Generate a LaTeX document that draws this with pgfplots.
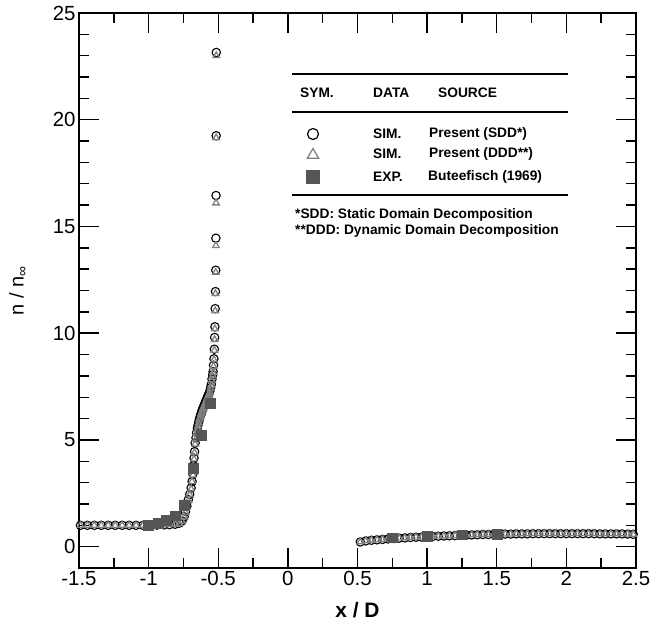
\documentclass[border=0pt]{standalone}
\usepackage{pgfplots}
\pgfplotsset{compat=1.18}
\usepackage{pgfplotstable}
\usepackage{fontspec}
\setmainfont{Liberation Sans}
\usetikzlibrary{shapes.geometric}

% upstream + shock region: x, SDD (circles), DDD (triangles)
\pgfplotstableread{
x sdd ddd
-1.49 1.00 1.00
-1.44 1.00 1.00
-1.39 1.00 1.00
-1.34 1.00 1.00
-1.29 1.00 1.00
-1.24 1.00 1.00
-1.19 1.00 1.00
-1.14 1.00 1.00
-1.09 1.00 1.00
-1.04 1.00 1.00
-0.99 1.00 1.00
-0.94 1.01 1.01
-0.89 1.02 1.02
-0.85 1.03 1.03
-0.81 1.05 1.05
-0.78 1.10 1.08
-0.76 1.20 1.17
-0.745 1.40 1.38
-0.735 1.65 1.60
-0.725 1.90 1.87
-0.715 2.20 2.15
-0.705 2.45 2.43
-0.695 2.75 2.70
-0.688 3.05 3.05
-0.682 3.40 3.35
-0.678 3.80 3.75
-0.674 4.15 4.10
-0.670 4.45 4.40
-0.666 4.85 4.80
-0.660 5.10 5.05
-0.655 5.35 5.30
-0.650 5.55 5.50
-0.645 5.70 5.65
-0.640 5.85 5.80
-0.635 5.98 5.95
-0.630 6.10 6.05
-0.625 6.20 6.15
-0.620 6.30 6.25
-0.615 6.40 6.35
-0.610 6.48 6.45
-0.605 6.56 6.52
-0.600 6.64 6.60
-0.595 6.72 6.68
-0.590 6.80 6.76
-0.585 6.88 6.84
-0.580 6.96 6.92
-0.575 7.04 7.00
-0.570 7.12 7.08
-0.565 7.20 7.16
-0.560 7.30 7.25
-0.555 7.45 7.40
-0.550 7.60 7.55
-0.545 7.85 7.80
-0.540 8.05 8.00
-0.537 8.20 8.15
-0.534 8.50 8.45
-0.531 8.80 8.75
-0.528 9.25 9.20
-0.526 9.80 9.70
-0.524 10.30 10.20
-0.522 11.15 11.05
-0.520 11.95 11.85
-0.518 12.95 12.85
-0.517 14.45 14.10
-0.516 16.45 16.10
-0.515 19.25 19.15
-0.514 23.15 23.00
}\upstream

% downstream region
\pgfplotstableread{
x sdd ddd
0.52 0.22 0.22
0.56 0.27 0.27
0.60 0.30 0.30
0.64 0.32 0.32
0.68 0.34 0.34
0.72 0.36 0.36
0.76 0.38 0.38
0.80 0.40 0.40
0.84 0.41 0.41
0.88 0.43 0.43
0.92 0.44 0.44
0.96 0.45 0.45
1.00 0.47 0.47
1.04 0.48 0.48
1.08 0.49 0.49
1.12 0.50 0.50
1.16 0.51 0.51
1.20 0.52 0.52
1.24 0.53 0.53
1.28 0.54 0.54
1.32 0.55 0.55
1.36 0.56 0.56
1.40 0.57 0.57
1.44 0.57 0.57
1.48 0.58 0.58
1.52 0.58 0.58
1.56 0.59 0.59
1.60 0.59 0.59
1.64 0.60 0.60
1.68 0.60 0.60
1.72 0.60 0.60
1.76 0.61 0.61
1.80 0.61 0.61
1.84 0.61 0.61
1.88 0.61 0.61
1.92 0.61 0.61
1.96 0.61 0.61
2.00 0.61 0.61
2.04 0.61 0.61
2.08 0.61 0.61
2.12 0.61 0.61
2.16 0.61 0.61
2.20 0.61 0.61
2.24 0.60 0.60
2.28 0.60 0.60
2.32 0.60 0.60
2.36 0.60 0.60
2.40 0.60 0.60
2.44 0.59 0.59
2.48 0.58 0.58
}\downstream

% experiment (Buteefisch 1969)
\pgfplotstableread{
x n
-1.00 1.00
-0.93 1.10
-0.875 1.25
-0.81 1.45
-0.745 1.95
-0.683 3.68
-0.62 5.24
-0.56 6.73
0.75 0.42
1.00 0.47
1.25 0.56
1.50 0.60
}\experiment

\definecolor{expgray}{HTML}{555555}
\definecolor{trigray}{HTML}{808080}

\begin{document}
\begin{tikzpicture}
\useasboundingbox (-79bp,-59bp) rectangle (572bp,568bp);
\begin{axis}[
  at={(0,0)}, anchor=south west,
  scale only axis, width=557bp, height=555bp,
  xmin=-1.5, xmax=2.5, ymin=-1, ymax=25,
  xtick={-1.5,-1,-0.5,0,0.5,1,1.5,2,2.5},
  ytick={0,5,10,15,20,25},
  minor x tick num=1, minor y tick num=4,
  tick align=inside,
  major tick length=20bp, minor tick length=10bp,
  tick style={line width=1.4pt, black},
  tick label style={font=\fontsize{20.5}{24}\selectfont},
  /pgf/number format/assume math mode=true,
  xlabel={\textbf{x / D}},
  xlabel style={font=\fontsize{21}{24}\selectfont, at={(axis description cs:0.5,-0.0757)}, anchor=center},
  ylabel={n / n\textsubscript{∞}},
  ylabel style={font=\fontsize{20}{23}\selectfont, at={(axis description cs:-0.1095,0.5)}, anchor=center},
  clip=false,
]
\addplot[only marks, mark=o, mark size=4.2pt, black, mark options={line width=1.1pt}] table[x=x,y=sdd] {\upstream};
\addplot[only marks, mark=o, mark size=4.2pt, black, mark options={line width=1.1pt}] table[x=x,y=sdd] {\downstream};
\addplot[only marks, mark=triangle, mark size=3.8pt, trigray, mark options={line width=1.3pt}] table[x=x,y=ddd] {\upstream};
\addplot[only marks, mark=triangle, mark size=3.8pt, trigray, mark options={line width=1.3pt}] table[x=x,y=ddd] {\downstream};
\addplot[only marks, mark=square*, mark size=5pt, expgray, mark options={draw=none, fill=expgray}] table[x=x,y=n] {\experiment};
\draw[line width=1.8pt] (rel axis cs:0,0) rectangle (rel axis cs:1,1);
\end{axis}

% legend table
\begin{scope}[every node/.style={inner sep=0pt, anchor=west, font=\fontsize{13.8}{16}\selectfont\bfseries}]
\draw[line width=1.2pt] (213bp,494bp) -- (489bp,494bp);
\draw[line width=1.2pt] (213bp,456bp) -- (489bp,456bp);
\draw[line width=1.2pt] (213bp,373bp) -- (489bp,373bp);
\node at (221bp,475bp) {SYM.};
\node at (294bp,475bp) {DATA};
\node at (359bp,475bp) {SOURCE};
\node[circle, draw, line width=1.2pt, minimum size=11bp, anchor=center] at (234bp,434bp) {};
\node[regular polygon, regular polygon sides=3, draw=trigray, line width=1.3pt, minimum size=13bp, anchor=center] at (234bp,413bp) {};
\node[rectangle, fill=expgray, minimum size=14bp, anchor=center] at (234bp,391bp) {};
\node at (294bp,434bp) {SIM.};
\node at (350bp,434bp) {Present (SDD*)};
\node at (294bp,414bp) {SIM.};
\node at (350bp,414bp) {Present (DDD**)};
\node at (294bp,391bp) {EXP.};
\node at (349bp,391bp) {Buteefisch (1969)};
\node at (216bp,353bp) {*SDD: Static Domain Decomposition};
\node at (216bp,337bp) {**DDD: Dynamic Domain Decomposition};
\end{scope}
\end{tikzpicture}
\end{document}
